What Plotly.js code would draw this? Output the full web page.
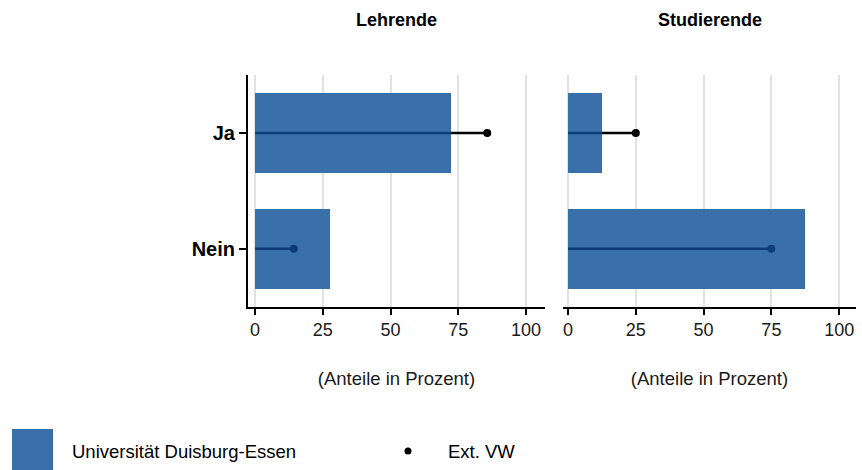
<!DOCTYPE html>
<html>
<head>
<meta charset="utf-8">
<script src="https://cdn.plot.ly/plotly-3.0.1.min.js"></script>
<style>html,body{margin:0;padding:0;background:#fff;}#chart{width:862px;height:470px;}</style>
</head>
<body>
<div id="chart"></div>
<script>
// ---- data ----
const facets = ["Lehrende", "Studierende"];
const categories = ["Ja", "Nein"];
const udeLehrende = [72.2, 27.8];      // Universität Duisburg-Essen (bars)
const udeStudierende = [12.5, 87.5];
const extLehrende = [85.7, 14.3];      // Ext. VW (points)
const extStudierende = [25, 75];
const xTicks = [0, 25, 50, 75, 100];

const barColor = "#3a70aa";
const darkOnBar = "#0b3d78";
const FONT = "Liberation Sans, Arial, sans-serif";
const W = 862, H = 470;

const barVals = [udeLehrende, udeStudierende];
const extVals = [extLehrende, extStudierende];
const axNames = [["x", "y"], ["x2", "y2"]];

const traces = [];
facets.forEach((f, fi) => {
  const [xa, ya] = axNames[fi];
  traces.push({
    type: "bar", orientation: "h", x: barVals[fi], y: categories,
    xaxis: xa, yaxis: ya, width: 0.69,
    marker: {color: barColor, line: {width: 0}},
    showlegend: false, hoverinfo: "x+y"
  });
  // segments: part inside bar (dark blue), part outside (black)
  const inX = [], inY = [], outX = [], outY = [];
  categories.forEach((c, ci) => {
    const b = barVals[fi][ci], p = extVals[fi][ci];
    const m = Math.min(b, p);
    inX.push(0, m, null); inY.push(c, c, null);
    if (p > b) { outX.push(b, p, null); outY.push(c, c, null); }
  });
  traces.push({type: "scatter", mode: "lines", x: inX, y: inY, xaxis: xa, yaxis: ya,
    line: {color: darkOnBar, width: 2.5}, showlegend: false, hoverinfo: "skip"});
  traces.push({type: "scatter", mode: "lines", x: outX, y: outY, xaxis: xa, yaxis: ya,
    line: {color: "#000", width: 2.5}, showlegend: false, hoverinfo: "skip"});
  traces.push({type: "scatter", mode: "markers", x: extVals[fi], y: categories,
    xaxis: xa, yaxis: ya,
    marker: {size: 8, color: categories.map((c, ci) => extVals[fi][ci] > barVals[fi][ci] ? "#000" : darkOnBar)},
    showlegend: false, hoverinfo: "x+y"});
});

const yDom = [1 - 306.7 / H, 1 - 75 / H];
function xAxis(dom, rng) {
  return {
    domain: dom, range: rng, tickvals: xTicks, ticktext: xTicks.map(String),
    showline: true, linecolor: "#000", linewidth: 2,
    ticks: "outside", ticklen: 6, tickwidth: 2, tickcolor: "#000",
    tickfont: {family: FONT, size: 18, color: "#1a1a1a"},
    showgrid: true, gridcolor: "#e2e2e2", gridwidth: 2, zeroline: false,
    title: {text: "(Anteile in Prozent)", font: {family: FONT, size: 18.5, color: "#1a1a1a"}, standoff: 33},
    fixedrange: true
  };
}
const layout = {
  width: W, height: H,
  margin: {l: 0, r: 0, t: 0, b: 0},
  paper_bgcolor: "#fff", plot_bgcolor: "rgba(0,0,0,0)",
  showlegend: false,
  bargap: 0,
  xaxis: xAxis([248 / W, 545 / W], [-2.6, 107]),
  xaxis2: xAxis([563 / W, 856 / W], [-1.85, 106.2]),
  yaxis: {
    domain: yDom, type: "category", categoryorder: "array", categoryarray: ["Nein", "Ja"],
    range: [-0.5, 1.5], showline: true, linecolor: "#000", linewidth: 2,
    ticks: "outside", ticklen: 7, tickwidth: 2, tickcolor: "#000",
    tickfont: {family: FONT, size: 20, color: "#000", weight: "bold"},
    showgrid: false, zeroline: false, anchor: "x", fixedrange: true
  },
  yaxis2: {
    domain: yDom, type: "category", categoryorder: "array", categoryarray: ["Nein", "Ja"],
    range: [-0.5, 1.5], showline: false, ticks: "", showticklabels: false,
    showgrid: false, zeroline: false, anchor: "x2", fixedrange: true
  },
  annotations: [
    {text: "<b>" + facets[0] + "</b>", xref: "paper", yref: "paper", x: 396.5 / W, y: 1 - 20 / H,
     xanchor: "center", yanchor: "middle", showarrow: false, font: {family: FONT, size: 18, color: "#000"}},
    {text: "<b>" + facets[1] + "</b>", xref: "paper", yref: "paper", x: 709.5 / W, y: 1 - 20 / H,
     xanchor: "center", yanchor: "middle", showarrow: false, font: {family: FONT, size: 18, color: "#000"}},
    {text: "Universität Duisburg-Essen", xref: "paper", yref: "paper", x: 70 / W, y: 1 - 451 / H,
     xanchor: "left", yanchor: "middle", showarrow: false, font: {family: FONT, size: 18.5, color: "#000"}},
    {text: "Ext. VW", xref: "paper", yref: "paper", x: 446 / W, y: 1 - 451 / H,
     xanchor: "left", yanchor: "middle", showarrow: false, font: {family: FONT, size: 18.5, color: "#000"}}
  ],
  shapes: [
    {type: "rect", xref: "paper", yref: "paper", x0: 12 / W, x1: 53 / W, y0: 1 - 471 / H, y1: 1 - 429 / H,
     fillcolor: barColor, line: {width: 0}},
    {type: "circle", xref: "paper", yref: "paper", x0: 404.5 / W, x1: 411.5 / W, y0: 1 - 454.5 / H, y1: 1 - 447.5 / H,
     fillcolor: "#000", line: {width: 0}}
  ]
};
Plotly.newPlot("chart", traces, layout, {displayModeBar: false, staticPlot: true});
</script>
</body>
</html>
